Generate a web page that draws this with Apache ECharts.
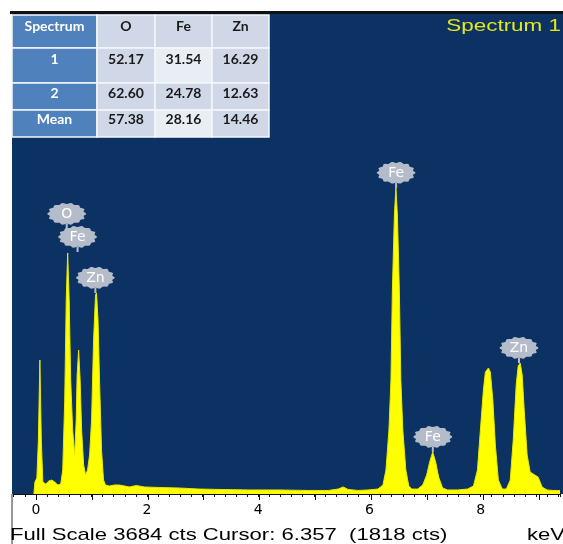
<!DOCTYPE html>
<html><head><meta charset="utf-8">
<script src="https://cdn.jsdelivr.net/npm/echarts@6/dist/echarts.min.js"></script>
<style>html,body{margin:0;padding:0;background:#fff}#c{width:563px;height:544px}</style>
</head><body><div id="c"></div>
<script>
// ---- data ----
const energyKeV = [-0.036,-0.018,0.018,0.045,0.072,0.098,0.125,0.179,0.233,0.286,0.340,0.394,0.447,0.483,0.519,0.546,0.572,0.599,0.626,0.662,0.698,0.725,0.742,0.769,0.796,0.823,0.859,0.894,0.930,0.966,1.002,1.038,1.073,1.091,1.118,1.145,1.181,1.217,1.252,1.324,1.413,1.503,1.682,1.807,1.950,2.218,2.576,2.934,3.292,3.828,4.365,4.902,5.259,5.438,5.528,5.617,5.796,5.975,6.154,6.243,6.297,6.351,6.387,6.413,6.449,6.476,6.503,6.538,6.565,6.601,6.655,6.708,6.762,6.869,6.959,7.030,7.084,7.138,7.191,7.245,7.317,7.406,7.585,7.764,7.871,7.943,7.996,8.050,8.086,8.140,8.175,8.220,8.265,8.319,8.390,8.462,8.533,8.587,8.640,8.676,8.712,8.748,8.784,8.837,8.891,8.945,8.980,9.034,9.106,9.195,9.302,9.428];
const counts = [0,92,123,414,1028,414,92,77,100,107,92,69,77,184,721,1489,1850,1489,875,491,299,568,913,1105,875,491,223,146,184,299,568,1182,1527,1543,1335,875,338,107,69,61,69,69,54,65,54,50,46,38,35,31,31,27,27,38,54,35,27,31,38,69,184,491,875,1566,2141,2349,2141,1566,875,491,184,61,38,38,69,146,246,322,246,130,46,31,31,38,61,184,491,798,936,967,936,721,376,107,38,38,107,414,837,982,1005,913,645,299,169,154,169,130,54,31,27,27];
const peakNames = ['O','Fe','Zn','Fe','Fe','Zn'];
const peakKeV = [0.555, 0.75, 1.07, 6.48, 7.14, 8.69];
const peakCounts = [2034, 1857, 1543, 2349, 322, 1005];
const tableHeader = ['Spectrum','O','Fe','Zn'];
const tableRowNames = ['1','2','Mean'];
const tableO = ['52.17','62.60','57.38'];
const tableFe = ['31.54','24.78','28.16'];
const tableZn = ['16.29','12.63','14.46'];
const xTickLabels = ['0','2','4','6','8'];
const fullScaleCts = 3684;
const titleText = 'Spectrum 1';
const footerText = 'Full Scale 3684 cts Cursor: 6.357  (1818 cts)';
const unitText = 'keV';

// ---- layout ----
const chart = echarts.init(document.getElementById('c'), null, {renderer:'canvas'});
const colX = [12, 97, 155, 212, 269];
const rowY = [15, 48, 83, 110, 137];
const textY = [26, 59, 93, 119];
const cellFill = [
  ['#4f81bd','#d0d8e8','#d0d8e8','#d0d8e8'],
  ['#4f81bd','#d0d8e8','#e9edf4','#d0d8e8'],
  ['#4f81bd','#d0d8e8','#d0d8e8','#d0d8e8'],
  ['#4f81bd','#d0d8e8','#e9edf4','#d0d8e8']
];
const rows = [tableHeader].concat(tableRowNames.map((n,i)=>[n, tableO[i], tableFe[i], tableZn[i]]));

const graphics = [
  {type:'rect', z:0, shape:{x:12,y:14,width:551,height:480}, style:{fill:'#0b3263'}},
  {type:'rect', z:0, shape:{x:10,y:11,width:553,height:3}, style:{fill:'#111'}},
  {type:'line', z:0, shape:{x1:12,y1:494,x2:12,y2:544}, style:{stroke:'#333', lineWidth:1}}
];
rows.forEach((r,ri)=>{
  r.forEach((t,ci)=>{
    graphics.push({type:'rect', z:100, shape:{x:colX[ci], y:rowY[ri], width:colX[ci+1]-colX[ci], height:rowY[ri+1]-rowY[ri]},
      style:{fill:cellFill[ri][ci], stroke:'#f4f6fa', lineWidth:1.5}});
    graphics.push({type:'text', z:101, x:(colX[ci]+colX[ci+1])/2, y:textY[ri],
      style:{text:t, font:'bold 14px Lato', fill: ci===0 ? '#ffffff' : '#1a1a1a',
        align:'center', verticalAlign:'middle', textAlign:'center', textVerticalAlign:'middle'}});
  });
});
graphics.push({type:'text', z:101, x:561, y:26, scaleX:1.32,
  style:{text:titleText, font:'17px "Liberation Sans"', fill:'#e6e61c', align:'right', verticalAlign:'middle', textAlign:'right', textVerticalAlign:'middle'}});
graphics.push({type:'text', z:101, x:10, y:535.5, scaleX:1.3,
  style:{text:footerText, font:'17px "Liberation Sans"', fill:'#000', align:'left', verticalAlign:'middle', textAlign:'left', textVerticalAlign:'middle'}});
graphics.push({type:'text', z:101, x:527, y:535.5, scaleX:1.3,
  style:{text:unitText, font:'17px "Liberation Sans"', fill:'#000', align:'left', verticalAlign:'middle', textAlign:'left', textVerticalAlign:'middle'}});

function bubblePath(){
  let d='';
  const n=84;
  for(let i=0;i<=n;i++){
    const t=i/n*2*Math.PI;
    const r=(1+0.06*Math.cos(14*t))/1.06;
    const x=19+19*r*Math.cos(t), y=11+11*r*Math.sin(t);
    d+=(i?'L':'M')+x.toFixed(2)+','+y.toFixed(2)+' ';
  }
  d+='Z M18,21 L20,21 L20,26 L18,26 Z';
  return 'path://'+d;
}

const option = {
  animation:false,
  graphic: graphics,
  grid:[
    {left:13.64, right:0, top:14, bottom:50, containLabel:false},
    {left:35.96, right:0, top:14, bottom:50, containLabel:false}
  ],
  xAxis:[
    {type:'value', gridIndex:0, min:-0.4, max:9.428, interval:0.2,
      axisLine:{show:true, onZero:false, lineStyle:{color:'#111', width:1}},
      axisTick:{show:true, length:3, lineStyle:{color:'#111'}},
      splitLine:{show:false},
      axisLabel:{show:true, margin:9, color:'#000', fontFamily:'DejaVu Sans', fontSize:14,
        formatter: v => { const r=Math.round(v); return (Math.abs(v-r)<1e-6 && xTickLabels.indexOf(String(r))>=0) ? String(r) : ''; }}},
    {type:'value', gridIndex:1, min:0, max:9.428, interval:1,
      axisLine:{show:false, onZero:false},
      axisTick:{show:true, length:6, lineStyle:{color:'#111'}},
      axisLabel:{show:false}, splitLine:{show:false}}
  ],
  yAxis:[
    {type:'value', gridIndex:0, min:0, max:fullScaleCts, show:false},
    {type:'value', gridIndex:1, min:0, max:1, show:false}
  ],
  series:[
    {type:'line', xAxisIndex:0, yAxisIndex:0, z:2, silent:true,
      data: energyKeV.map((e,i)=>[e, counts[i]]),
      showSymbol:false, smooth:false,
      lineStyle:{color:'#e8e800', width:1},
      areaStyle:{color:'#ffff00', opacity:1}},
    {type:'scatter', xAxisIndex:0, yAxisIndex:0, z:5, silent:true,
      data: peakKeV.map((e,i)=>({name:peakNames[i], value:[e, peakCounts[i]]})),
      symbol: bubblePath(), symbolSize:[39,26], symbolOffset:[0,-13], symbolKeepAspect:false,
      itemStyle:{color:'#b4bbc9', opacity:1},
      label:{show:true, position:'inside', offset:[0,-2], formatter: p => p.name,
        color:'#ffffff', fontFamily:'DejaVu Sans', fontSize:14}}
  ]
};
chart.setOption(option);
</script>
</body></html>
